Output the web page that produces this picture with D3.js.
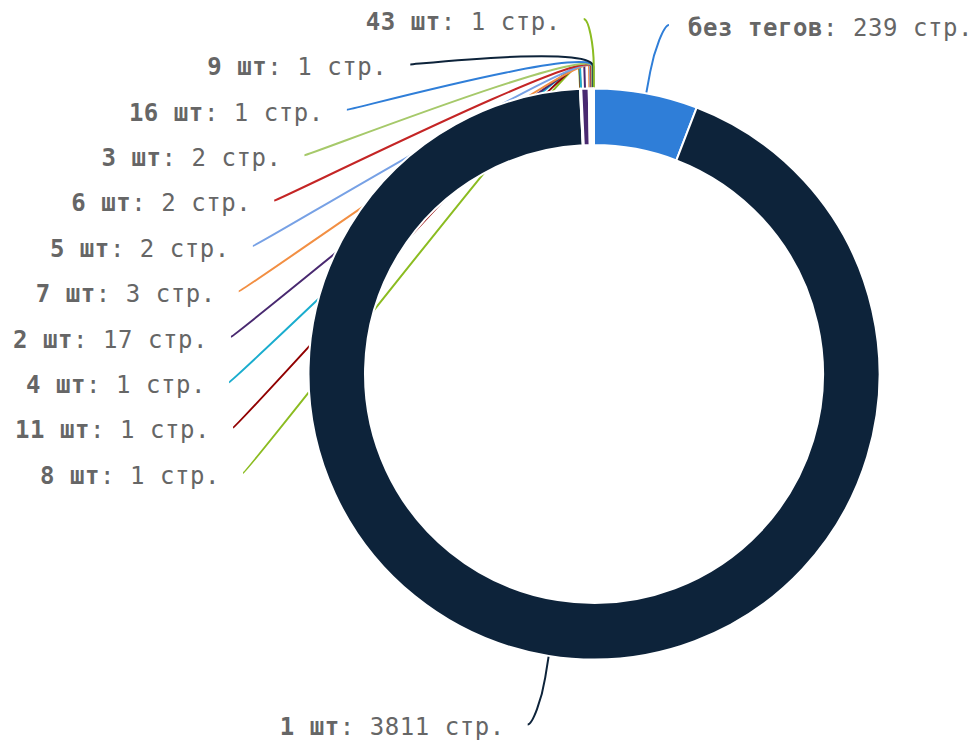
<!DOCTYPE html>
<html>
<head>
<meta charset="utf-8">
<script src="https://cdn.jsdelivr.net/npm/d3@7/dist/d3.min.js"></script>
<style>
  html, body { margin: 0; padding: 0; background: #ffffff; }
  svg { display: block; }
</style>
</head>
<body>
<svg id="chart" width="976" height="745"></svg>
<script>
// ---- data ----
const categories = ['без тегов', '1 шт', '8 шт', '11 шт', '4 шт', '2 шт', '7 шт', '5 шт', '6 шт', '3 шт', '16 шт', '9 шт', '43 шт'];
const pages = [239, 3811, 1, 1, 1, 17, 3, 2, 2, 2, 1, 1, 1];
const unitLabel = 'стр.';
const palette = ['#2f7ed8', '#0d233a', '#8bbc21', '#910000', '#1aadce', '#492970', '#f28f43', '#77a1e5', '#c42525', '#a6c96a'];

// ---- layout ----
const W = 976, H = 745;
const cx = 594, cy = 374;
const outerR = 285.5, innerR = 229;
const labelR = 355;       // radius + label distance
const padding = 10;       // data label padding
const spacing = 45.4;     // min vertical distance between labels
const breakOff = 22;      // connector break outside the ring
const textGapLeft = 23, textGapRight = 19;
const fontSize = 24;

const svg = d3.select('#chart');
const connG = svg.append('g');
const g = svg.append('g').attr('transform', `translate(${cx},${cy})`);
const textG = svg.append('g');

const data = categories.map((c, i) => ({ name: c, value: pages[i], color: palette[i % palette.length] }));
const pie = d3.pie().sort(null).value(d => d.value).startAngle(0).endAngle(2 * Math.PI);
const arcs = pie(data);
const arc = d3.arc().innerRadius(innerR).outerRadius(outerR);

g.selectAll('path.slice').data(arcs).enter().append('path')
  .attr('class', 'slice')
  .attr('d', arc)
  .attr('fill', d => d.data.color)
  .attr('stroke', '#ffffff')
  .attr('stroke-width', 2)
  .attr('stroke-linejoin', 'round');

// ---- labels ----
const pt = (ang, r) => ({ x: cx + r * Math.sin(ang), y: cy - r * Math.cos(ang) });
const labels = arcs.map(a => {
  const mid = (a.startAngle + a.endAngle) / 2;
  const nat = pt(mid, labelR);
  return {
    a, mid,
    left: mid > Math.PI,
    y: nat.y,
    touch: pt(mid, outerR),
    brk: pt(mid, outerR + breakOff)
  };
});

// distribute per half
[true, false].forEach(side => {
  const grp = labels.filter(l => l.left === side).sort((p, q) => p.y - q.y);
  for (let i = 1; i < grp.length; i++) {
    grp[i].y = Math.max(grp[i].y, grp[i - 1].y + spacing);
  }
});

labels.forEach(l => {
  const dy = Math.max(-labelR, Math.min(labelR, l.y - cy));
  const dx = Math.sqrt(labelR * labelR - dy * dy) + padding;
  l.x = cx + (l.left ? -dx : dx);
});

labels.forEach(l => {
  const dir = l.left ? 1 : -1;
  const p = d3.path();
  p.moveTo(l.x, l.y);
  p.bezierCurveTo(l.x + 5 * dir, l.y, 2 * l.brk.x - l.touch.x, 2 * l.brk.y - l.touch.y, l.brk.x, l.brk.y);
  p.lineTo(l.touch.x, l.touch.y);
  connG.append('path')
    .attr('d', p.toString())
    .attr('fill', 'none')
    .attr('stroke', l.a.data.color)
    .attr('stroke-width', 2);
});

labels.forEach(l => {
  const t = textG.append('text')
    .attr('x', l.left ? l.x - textGapLeft : l.x + textGapRight)
    .attr('y', l.y + 0.45 * fontSize)
    .attr('text-anchor', l.left ? 'end' : 'start')
    .attr('font-family', '"DejaVu Sans Mono", monospace')
    .attr('font-size', fontSize)
    .attr('letter-spacing', '0.55px')
    .attr('fill', '#666666');
  t.append('tspan').attr('font-weight', 'bold').text(l.a.data.name);
  t.append('tspan').text(': ' + l.a.data.value + ' ' + unitLabel);
});
</script>
</body>
</html>
